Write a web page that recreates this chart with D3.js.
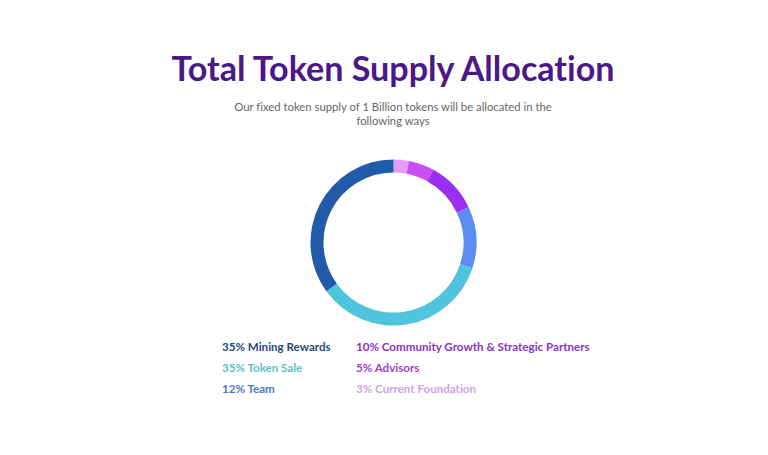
<!DOCTYPE html>
<html><head><meta charset="utf-8">
<script src="https://cdn.jsdelivr.net/npm/d3@7"></script>
<style>body{margin:0;background:#fff;}svg{display:block;}text{font-variant-ligatures:none;}</style>
</head><body>
<svg id="c" width="768" height="455"></svg>
<script>
const categories = ["Current Foundation","Advisors","Community Growth & Strategic Partners","Team","Token Sale","Mining Rewards"];
const values = [3,5,10,12,35,35];
const sliceColors = ["#e39cf7","#c94ef6","#9a2ff0","#5a8cf3","#4fc4dd","#1f5ba8"];
const textColors = ["#d29fe2","#a23fd0","#8b33c2","#4b77bf","#5bbfcf","#1f4a7c"];
const legendLeft = [5,4,3]; // indices: Mining Rewards, Token Sale, Team
const legendRight = [2,1,0];

const svg = d3.select("#c");
const font = "Lato, 'Open Sans', sans-serif";
svg.append("text").attr("x",393).attr("y",81).attr("text-anchor","middle")
  .attr("font-family",font).attr("font-weight",700).attr("font-size",34.1)
  .attr("fill","#4b1889").text("Total Token Supply Allocation");
const sub = ["Our fixed token supply of 1 Billion tokens will be allocated in the","following ways"];
svg.selectAll("text.sub").data(sub).join("text").attr("class","sub")
  .attr("x",393).attr("y",(d,i)=>111+i*14).attr("text-anchor","middle")
  .attr("font-family",font).attr("font-size",11.3).attr("fill","#666").text(d=>d);

const pie = d3.pie().sort(null).value(d=>d)(values);
const arc = d3.arc().innerRadius(70).outerRadius(83);
const g = svg.append("g").attr("transform","translate(393.5,242.5)");
g.selectAll("path").data(pie).join("path").attr("d",arc).attr("fill",(d,i)=>sliceColors[i]);

function legend(idx, x){
  svg.selectAll(null).data(idx).join("text")
    .attr("x",x).attr("y",(d,i)=>351+i*21)
    .attr("font-family",font).attr("font-weight",700).attr("font-size",11.6)
    .attr("fill",d=>textColors[d]).text(d=>values[d]+"% "+categories[d]);
}
legend(legendLeft,222);
legend(legendRight,356);
</script>
</body></html>
